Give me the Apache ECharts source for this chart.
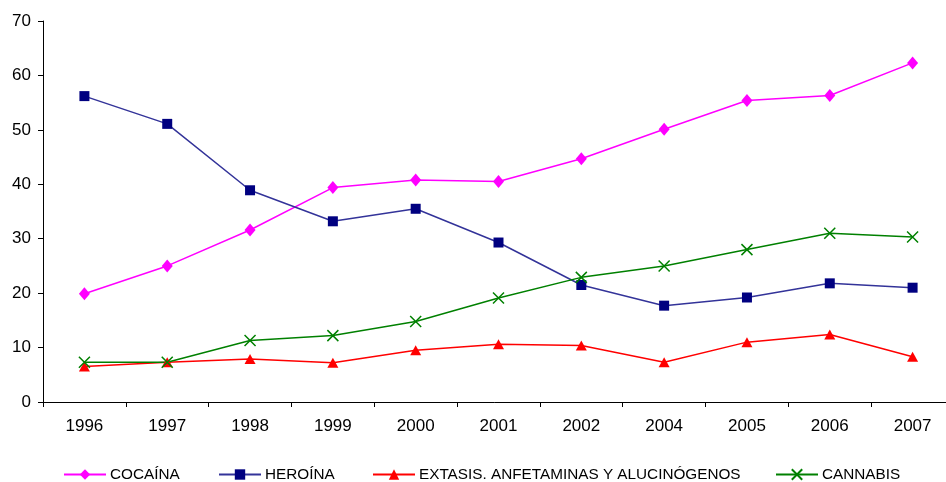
<!DOCTYPE html>
<html>
<head>
<meta charset="utf-8">
<script src="https://cdn.jsdelivr.net/npm/echarts@6/dist/echarts.min.js"></script>
<style>
  html, body { margin: 0; padding: 0; background: #fff; }
  #chart { width: 946px; height: 482px; }
</style>
</head>
<body>
<div id="chart"></div>
<script>
// Years on the horizontal axis (2003 is not surveyed)
const years = ['1996', '1997', '1998', '1999', '2000', '2001', '2002', '2004', '2005', '2006', '2007'];

// Series values per year
const cocaina   = [19.9, 25.0, 31.6, 39.4, 40.8, 40.5, 44.7, 50.1, 55.4, 56.3, 62.3];
const heroina   = [56.2, 51.1, 38.9, 33.2, 35.5, 29.3, 21.5, 17.7, 19.2, 21.8, 21.0];
const extasis   = [6.5, 7.3, 7.9, 7.2, 9.5, 10.6, 10.4, 7.3, 11.0, 12.4, 8.3];
const cannabis  = [7.3, 7.3, 11.3, 12.2, 14.8, 19.1, 22.9, 25.0, 28.0, 31.0, 30.3];

const seriesNames = ['COCAÍNA', 'HEROÍNA', 'EXTASIS. ANFETAMINAS Y ALUCINÓGENOS', 'CANNABIS'];

const crossPath = 'path://M0,0L10,10M10,0L0,10';
const font = 'Arial, "Liberation Sans", sans-serif';

const chart = echarts.init(document.getElementById('chart'), null, { renderer: 'canvas' });

function legendAt(name, left) {
  return {
    data: [name],
    left: left,
    top: 467,
    itemWidth: 42,
    itemHeight: 13,
    itemGap: 4,
    padding: 0,
    selectedMode: false,
    textStyle: { color: '#000', fontFamily: font, fontSize: 15.3, padding: [0, 0, 0, -1] }
  };
}

chart.setOption({
  animation: false,
  backgroundColor: '#fff',
  // plot runs slightly past the right edge of the canvas
  grid: { left: 43, width: 911, top: 21, bottom: 80, outerBoundsMode: 'none' },
  legend: [
    legendAt(seriesNames[0], 63),
    legendAt(seriesNames[1], 218),
    legendAt(seriesNames[2], 372),
    legendAt(seriesNames[3], 775)
  ],
  xAxis: {
    type: 'category',
    data: years,
    boundaryGap: true,
    axisLine: { lineStyle: { color: '#000', width: 1 } },
    axisTick: { show: true, length: 5, inside: false, alignWithLabel: false, lineStyle: { color: '#000' } },
    axisLabel: { color: '#000', fontFamily: font, fontSize: 17, margin: 16 },
    splitLine: { show: false }
  },
  yAxis: {
    type: 'value',
    min: 0,
    max: 70,
    interval: 10,
    axisLine: { show: true, lineStyle: { color: '#000', width: 1 } },
    axisTick: { show: true, length: 5, lineStyle: { color: '#000' } },
    axisLabel: { color: '#000', fontFamily: font, fontSize: 17, margin: 12 },
    splitLine: { show: false }
  },
  series: [
    {
      name: seriesNames[0], type: 'line', data: cocaina,
      symbol: 'diamond', symbolSize: [11, 13],
      lineStyle: { color: '#FF00FF', width: 1.5 },
      itemStyle: { color: '#FF00FF' }
    },
    {
      name: seriesNames[1], type: 'line', data: heroina,
      symbol: 'rect', symbolSize: 10,
      lineStyle: { color: '#333399', width: 1.5 },
      itemStyle: { color: '#000080' }
    },
    {
      name: seriesNames[2], type: 'line', data: extasis,
      symbol: 'triangle', symbolSize: [11, 10],
      lineStyle: { color: '#FF0000', width: 1.5 },
      itemStyle: { color: '#FF0000' }
    },
    {
      name: seriesNames[3], type: 'line', data: cannabis,
      symbol: crossPath, symbolSize: 11,
      lineStyle: { color: '#008000', width: 1.5 },
      itemStyle: { color: 'rgba(0,0,0,0)', borderColor: '#008000', borderWidth: 1.5 }
    }
  ]
});
</script>
</body>
</html>
